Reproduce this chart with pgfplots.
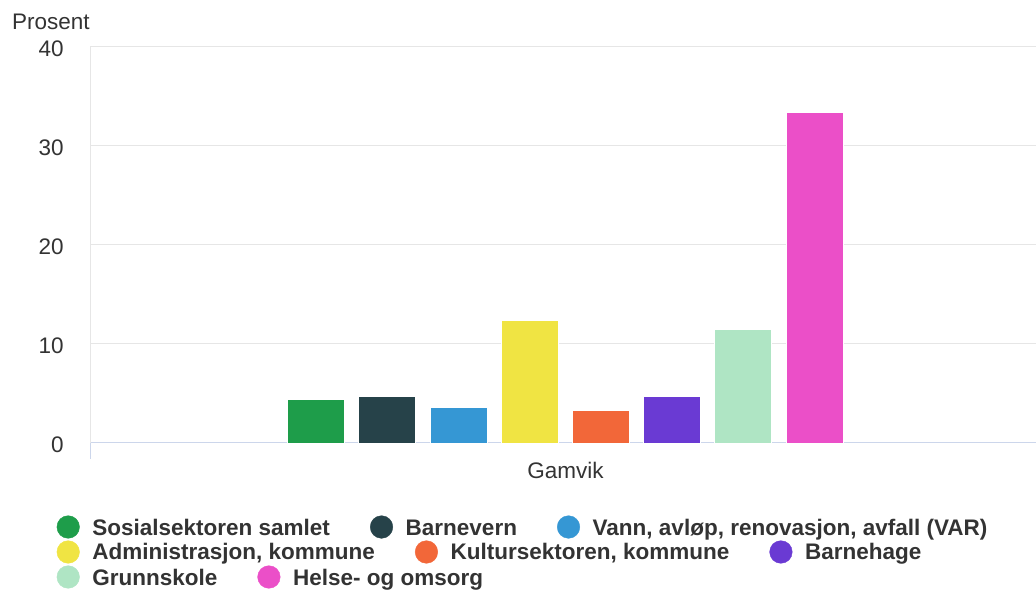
\documentclass[border=0pt]{standalone}
\usepackage{pgfplots}
\pgfplotsset{compat=1.18}
\usepackage{fontspec}
\setmainfont{Liberation Sans}
\definecolor{c1}{HTML}{1E9D4A}
\definecolor{c2}{HTML}{264249}
\definecolor{c3}{HTML}{3597D4}
\definecolor{c4}{HTML}{F0E443}
\definecolor{c5}{HTML}{F26739}
\definecolor{c6}{HTML}{6A3AD3}
\definecolor{c7}{HTML}{AFE5C4}
\definecolor{c8}{HTML}{EB4FC8}
\definecolor{gridc}{HTML}{E6E6E6}
\definecolor{basec}{HTML}{CCD6EB}
\definecolor{txt}{HTML}{333333}
\pgfplotsset{
  legrow/.style={
    hide axis, at={(0pt,0pt)}, anchor=south west, scale only axis,
    width=1036pt, height=589pt, xmin=0, xmax=1, ymin=0, ymax=1,
    legend columns=-1, legend cell align=left,
    legend image code/.code={\fill (0pt,0pt) circle (11.3pt);},
    legend style={at={(0.05473,#1)}, anchor=west, draw=none, fill=none,
      inner sep=0pt, outer sep=0pt, column sep=12.7pt,
      /tikz/every even column/.append style={column sep=40pt},
      nodes={inner sep=0pt, text=txt, text height=16pt, text depth=0pt,
        font=\fontsize{22.5}{27}\selectfont\bfseries}},
  }
}
\begin{document}
\begin{tikzpicture}[x=1pt,y=1pt]
\useasboundingbox (0,0) rectangle (1036,589);
\begin{axis}[
  at={(90pt,146pt)}, anchor=south west,
  scale only axis, width=946pt, height=396pt,
  xmin=-0.5, xmax=0.495, ymin=0, ymax=40,
  ybar=14.2pt, bar width=57pt,
  axis x line=bottom, axis y line=left,
  axis line style={-},
  x axis line style={basec, line width=1pt},
  y axis line style={gridc, line width=1pt},
  ytick={0,10,20,30,40},
  ymajorgrids, grid style={gridc, line width=1pt},
  ytick style={draw=none}, xtick style={draw=none},
  xtick={0}, xticklabels={Gamvik},
  extra x ticks={-0.5}, extra x tick labels={},
  extra x tick style={xtick style={draw=basec, line width=1pt}, major tick length=16pt, tick align=outside, grid=none},
  /pgf/number format/assume math mode=true,
  tick label style={font=\fontsize{22.5}{27}\selectfont, text=txt},
  yticklabel style={anchor=east, inner sep=0pt, xshift=-24pt, yshift=-2pt},
  xticklabel style={anchor=center, inner sep=0pt, yshift=-25pt},
]
\addplot[fill=c1, draw=white, line width=0.8pt] coordinates {(0,4.4)};
\addplot[fill=c2, draw=white, line width=0.8pt] coordinates {(0,4.7)};
\addplot[fill=c3, draw=white, line width=0.8pt] coordinates {(0,3.6)};
\addplot[fill=c4, draw=white, line width=0.8pt] coordinates {(0,12.4)};
\addplot[fill=c5, draw=white, line width=0.8pt] coordinates {(0,3.3)};
\addplot[fill=c6, draw=white, line width=0.8pt] coordinates {(0,4.7)};
\addplot[fill=c7, draw=white, line width=0.8pt] coordinates {(0,11.5)};
\addplot[fill=c8, draw=white, line width=0.8pt] coordinates {(0,33.4)};
\end{axis}
\node[anchor=west, inner sep=0pt, text=txt, font=\fontsize{22.5}{27}\selectfont] at (12,567) {Prosent};
\begin{axis}[legrow=0.10526]
\addlegendimage{color=c1}\addlegendentry{Sosialsektoren samlet}
\addlegendimage{color=c2}\addlegendentry{Barnevern}
\addlegendimage{color=c3}\addlegendentry{Vann, avløp, renovasjon, avfall (VAR)}
\end{axis}
\begin{axis}[legrow=0.06282]
\addlegendimage{color=c4}\addlegendentry{Administrasjon, kommune}
\addlegendimage{color=c5}\addlegendentry{Kultursektoren, kommune}
\addlegendimage{color=c6}\addlegendentry{Barnehage}
\end{axis}
\begin{axis}[legrow=0.02037]
\addlegendimage{color=c7}\addlegendentry{Grunnskole}
\addlegendimage{color=c8}\addlegendentry{Helse- og omsorg}
\end{axis}
\end{tikzpicture}
\end{document}
